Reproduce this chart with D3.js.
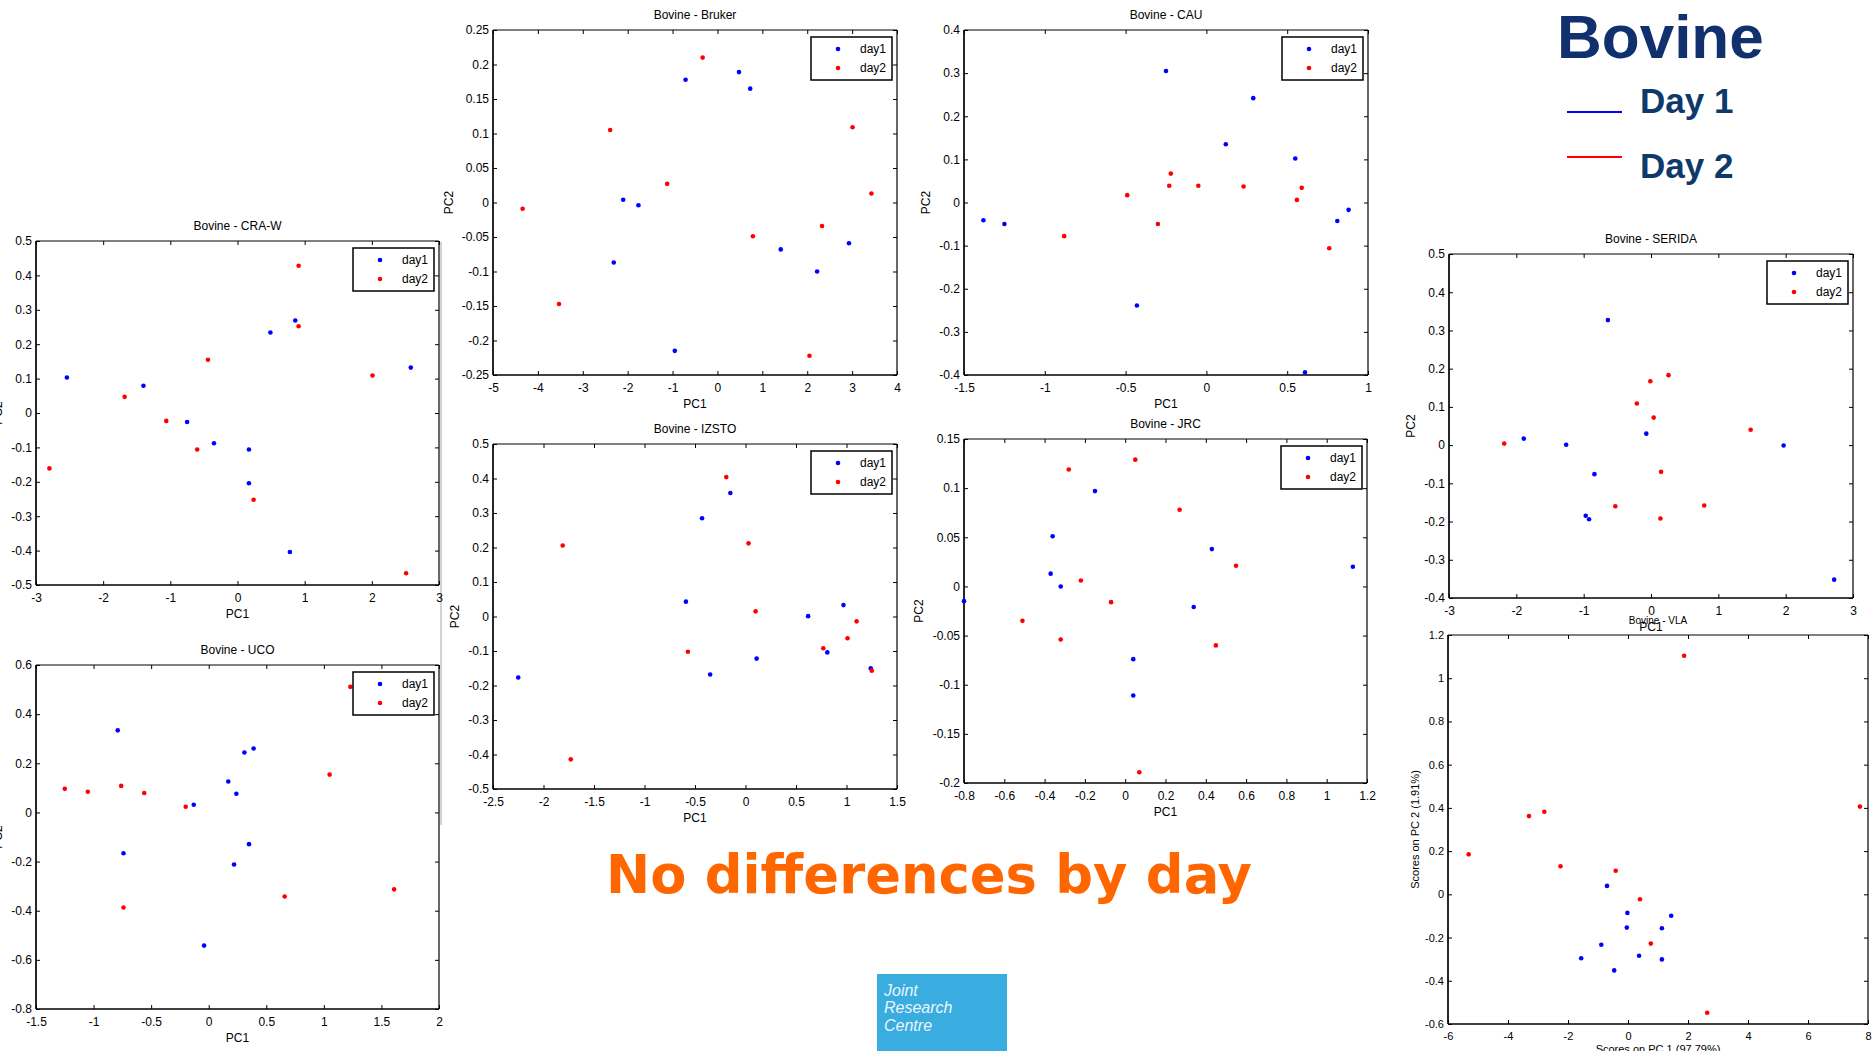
<!DOCTYPE html>
<html><head><meta charset="utf-8">
<script src="https://cdn.jsdelivr.net/npm/d3@7"></script>
<style>body{margin:0;background:#fff;}svg{display:block;}</style>
</head><body>
<svg id="c" width="1874" height="1051"></svg>
<script>
// ---------------- DATA (PC1, PC2 scores) ----------------
const crawDay1 = [[-2.54,0.103],[-1.40,0.079],[-0.75,-0.026],[-0.35,-0.088],[0.17,-0.106],[0.17,-0.204],[0.49,0.234],[0.86,0.269],[0.78,-0.404],[2.58,0.132]];
const crawDay2 = [[-2.80,-0.161],[-1.68,0.047],[-1.06,-0.023],[-0.60,-0.106],[-0.44,0.155],[0.91,0.428],[0.91,0.252],[0.24,-0.252],[2.01,0.109],[2.51,-0.466]];
const crawXTicks = [-3,-2,-1,0,1,2,3];
const crawYTicks = [-0.5,-0.4,-0.3,-0.2,-0.1,0,0.1,0.2,0.3,0.4,0.5];

const ucoDay1 = [[-0.79,0.334],[-0.74,-0.166],[-0.13,0.031],[0.17,0.126],[0.24,0.076],[0.31,0.244],[0.39,0.260],[0.35,-0.129],[0.22,-0.212],[-0.04,-0.542]];
const ucoDay2 = [[-1.25,0.096],[-1.05,0.084],[-0.76,0.108],[-0.56,0.079],[-0.20,0.023],[-0.74,-0.387],[0.66,-0.342],[1.05,0.154],[1.23,0.511],[1.61,-0.313]];
const ucoXTicks = [-1.5,-1,-0.5,0,0.5,1,1.5,2];
const ucoYTicks = [-0.8,-0.6,-0.4,-0.2,0,0.2,0.4,0.6];

const brukerDay1 = [[-0.71,0.178],[0.48,0.189],[0.73,0.165],[-2.10,0.004],[-1.76,-0.004],[-2.31,-0.087],[-0.95,-0.215],[1.41,-0.068],[2.22,-0.100],[2.93,-0.059]];
const brukerDay2 = [[-0.33,0.210],[-2.39,0.105],[-1.12,0.027],[-4.34,-0.009],[-3.53,-0.147],[0.79,-0.049],[2.33,-0.034],[3.01,0.109],[3.43,0.013],[2.05,-0.222]];
const brukerXTicks = [-5,-4,-3,-2,-1,0,1,2,3,4];
const brukerYTicks = [-0.25,-0.2,-0.15,-0.1,-0.05,0,0.05,0.1,0.15,0.2,0.25];

const izstoDay1 = [[-2.25,-0.177],[-0.59,0.043],[-0.43,0.285],[-0.15,0.358],[-0.35,-0.168],[0.11,-0.122],[0.62,0.001],[0.97,0.033],[0.81,-0.104],[1.24,-0.150]];
const izstoDay2 = [[-1.81,0.206],[-1.73,-0.414],[-0.57,-0.102],[-0.19,0.404],[0.03,0.212],[0.10,0.015],[0.77,-0.092],[1.01,-0.063],[1.10,-0.014],[1.25,-0.157]];
const izstoXTicks = [-2.5,-2,-1.5,-1,-0.5,0,0.5,1,1.5];
const izstoYTicks = [-0.5,-0.4,-0.3,-0.2,-0.1,0,0.1,0.2,0.3,0.4,0.5];

const cauDay1 = [[-1.38,-0.041],[-1.25,-0.050],[-0.25,0.305],[-0.43,-0.239],[0.12,0.135],[0.29,0.242],[0.55,0.102],[0.81,-0.043],[0.88,-0.017],[0.61,-0.394]];
const cauDay2 = [[-0.88,-0.078],[-0.49,0.017],[-0.30,-0.050],[-0.23,0.039],[-0.22,0.067],[-0.05,0.039],[0.23,0.037],[0.56,0.006],[0.59,0.034],[0.76,-0.106]];
const cauXTicks = [-1.5,-1,-0.5,0,0.5,1];
const cauYTicks = [-0.4,-0.3,-0.2,-0.1,0,0.1,0.2,0.3,0.4];

const jrcDay1 = [[-0.80,-0.015],[-0.36,0.051],[-0.37,0.013],[-0.32,0.000],[-0.15,0.097],[0.04,-0.074],[0.04,-0.111],[0.34,-0.021],[0.43,0.038],[1.13,0.020]];
const jrcDay2 = [[-0.51,-0.035],[-0.32,-0.054],[-0.28,0.119],[-0.22,0.006],[-0.07,-0.016],[0.05,0.129],[0.07,-0.189],[0.27,0.078],[0.45,-0.060],[0.55,0.021]];
const jrcXTicks = [-0.8,-0.6,-0.4,-0.2,0,0.2,0.4,0.6,0.8,1,1.2];
const jrcYTicks = [-0.2,-0.15,-0.1,-0.05,0,0.05,0.1,0.15];

const seridaDay1 = [[-1.89,0.017],[-1.26,0.001],[-0.64,0.327],[-0.84,-0.076],[-0.97,-0.185],[-0.92,-0.194],[-0.07,0.030],[1.97,-0.001],[2.72,-0.352]];
const seridaDay2 = [[-2.18,0.004],[-0.21,0.109],[-0.01,0.167],[0.26,0.183],[0.04,0.072],[0.15,-0.070],[-0.53,-0.160],[0.14,-0.192],[0.79,-0.158],[1.48,0.040]];
const seridaXTicks = [-3,-2,-1,0,1,2,3];
const seridaYTicks = [-0.4,-0.3,-0.2,-0.1,0,0.1,0.2,0.3,0.4,0.5];

const vlaDay1 = [[-0.70,0.039],[-0.02,-0.086],[-0.04,-0.154],[1.44,-0.099],[1.13,-0.157],[-0.89,-0.233],[-1.56,-0.296],[-0.46,-0.352],[0.37,-0.284],[1.13,-0.301]];
const vlaDay2 = [[-5.31,0.185],[-3.30,0.362],[-2.79,0.382],[-2.25,0.130],[-0.41,0.109],[0.40,-0.023],[0.76,-0.228],[1.87,1.104],[2.64,-0.548],[7.73,0.406]];
const vlaXTicks = [-6,-4,-2,0,2,4,6,8];
const vlaYTicks = [-0.6,-0.4,-0.2,0,0.2,0.4,0.6,0.8,1,1.2];

const seriesNames = ["day1","day2"];
const seriesColors = ["#0000ff","#ff0000"];
const keyLabels = ["Day 1","Day 2"];

// ---------------- LAYOUT ----------------
const panels = [
  {title:"Bovine - CRA-W", d:[crawDay1,crawDay2], xt:crawXTicks, yt:crawYTicks, b:[36,241,439,585], ylx:2, xl:"PC1", yl:"PC2", legend:true},
  {title:"Bovine - UCO", d:[ucoDay1,ucoDay2], xt:ucoXTicks, yt:ucoYTicks, b:[36,665,439,1009], ylx:2, xl:"PC1", yl:"PC2", legend:true},
  {title:"Bovine - Bruker", d:[brukerDay1,brukerDay2], xt:brukerXTicks, yt:brukerYTicks, b:[493,30,897,375], ylx:453, xl:"PC1", yl:"PC2", legend:true},
  {title:"Bovine - IZSTO", d:[izstoDay1,izstoDay2], xt:izstoXTicks, yt:izstoYTicks, b:[493,444,897,789], ylx:459, xl:"PC1", yl:"PC2", legend:true},
  {title:"Bovine - CAU", d:[cauDay1,cauDay2], xt:cauXTicks, yt:cauYTicks, b:[964,30,1368,375], ylx:930, xl:"PC1", yl:"PC2", legend:true},
  {title:"Bovine - JRC", d:[jrcDay1,jrcDay2], xt:jrcXTicks, yt:jrcYTicks, b:[964,439,1367,783], ylx:923, xl:"PC1", yl:"PC2", legend:true},
  {title:"Bovine - SERIDA", d:[seridaDay1,seridaDay2], xt:seridaXTicks, yt:seridaYTicks, b:[1449,254,1853,598], ylx:1415, xl:"PC1", yl:"PC2", legend:true},
  {title:"Bovine - VLA", d:[vlaDay1,vlaDay2], xt:vlaXTicks, yt:vlaYTicks, b:[1448,635,1868,1024], ylx:1419, xl:"Scores on PC 1 (97.79%)", yl:"Scores on PC 2 (1.91%)", legend:false, fs:11, tfs:10}
];

const svg = d3.select("#c");
const FONT = "'Liberation Sans', Arial, sans-serif";
const fmt = v => Math.abs(v) < 1e-9 ? "0" : String(+v.toFixed(3));

// faint image border line between left column and middle column
svg.append("line").attr("x1",441).attr("x2",441).attr("y1",242).attr("y2",825)
  .attr("stroke","#c4c4c4").attr("stroke-width",1.5);

panels.forEach(p => {
  const [L,T,R,B] = p.b;
  const fs = p.fs || 12, tfs = p.tfs || 12;
  const x = d3.scaleLinear().domain(d3.extent(p.xt)).range([L,R]);
  const y = d3.scaleLinear().domain(d3.extent(p.yt)).range([B,T]);
  const g = svg.append("g").attr("font-family",FONT);

  const ax = (gen, tr, labels) => {
    const a = g.append("g").attr("transform",tr)
      .call(gen.tickSizeInner(-4).tickSizeOuter(0).tickPadding(labels?8:0).tickFormat(labels?fmt:""));
    a.select(".domain").remove();
    a.selectAll("line").attr("stroke","#000").attr("stroke-width",1);
    a.selectAll("text").attr("font-size",fs).attr("font-family",FONT).attr("fill","#000");
    return a;
  };
  ax(d3.axisBottom(x).tickValues(p.xt), `translate(0,${B})`, true);
  const la = ax(d3.axisLeft(y).tickValues(p.yt), `translate(${L},0)`, true);
  la.call(a => a.selectAll("text").attr("x",-4));
  ax(d3.axisTop(x).tickValues(p.xt), `translate(0,${T})`, false);
  ax(d3.axisRight(y).tickValues(p.yt), `translate(${R},0)`, false);

  // box
  g.append("line").attr("x1",L).attr("x2",R).attr("y1",T).attr("y2",T).attr("stroke","#000").attr("stroke-width",1);
  g.append("line").attr("x1",R).attr("x2",R).attr("y1",T).attr("y2",B).attr("stroke","#000").attr("stroke-width",1.2);
  g.append("line").attr("x1",L).attr("x2",R).attr("y1",B).attr("y2",B).attr("stroke","#000").attr("stroke-width",1.7);
  g.append("line").attr("x1",L).attr("x2",L).attr("y1",T).attr("y2",B).attr("stroke","#000").attr("stroke-width",1.7);

  // points
  p.d.forEach((s,i) => {
    g.append("g").selectAll("circle").data(s).join("circle")
      .attr("cx",d=>x(d[0])).attr("cy",d=>y(d[1])).attr("r",2.3)
      .attr("fill",seriesColors[i]);
  });

  // title & axis labels
  g.append("text").attr("x",(L+R)/2).attr("y",T-11).attr("text-anchor","middle")
    .attr("font-size",tfs).text(p.title);
  g.append("text").attr("x",(L+R)/2).attr("y",p.legend?B+33:B+29).attr("text-anchor","middle")
    .attr("font-size",fs).text(p.xl);
  g.append("text").attr("transform",`translate(${p.ylx},${(T+B)/2}) rotate(-90)`)
    .attr("text-anchor","middle").attr("font-size",fs).text(p.yl);

  // legend
  if (p.legend) {
    const lx = R-86, ly = T+7;
    const lg = g.append("g");
    lg.append("rect").attr("x",lx).attr("y",ly).attr("width",81).attr("height",43)
      .attr("fill","#fff").attr("stroke","#000").attr("stroke-width",1.5);
    seriesNames.forEach((n,i) => {
      lg.append("circle").attr("cx",lx+27).attr("cy",ly+12+i*19).attr("r",2.3).attr("fill",seriesColors[i]);
      lg.append("text").attr("x",lx+49).attr("y",ly+12+i*19).attr("dy","0.35em")
        .attr("font-size",12).text(n);
    });
  }
});

// -------- slide annotations --------
svg.append("text").attr("x",1557).attr("y",58).attr("font-family","'Liberation Sans', Arial, sans-serif")
  .attr("font-weight","bold").attr("font-size",62).attr("fill","#10306e").text("Bovine");
keyLabels.forEach((k,i) => {
  const yy = [112,157][i];
  svg.append("line").attr("x1",1567).attr("x2",1622).attr("y1",yy).attr("y2",yy)
    .attr("stroke",seriesColors[i]).attr("stroke-width",2);
  svg.append("text").attr("x",1640).attr("y",[113,178][i])
    .attr("font-family","'Liberation Sans', Arial, sans-serif").attr("font-weight","bold")
    .attr("font-size",35).attr("fill","#0d3a6b").text(k);
});

svg.append("text").attr("x",606).attr("y",893)
  .attr("font-family","'DejaVu Sans', Verdana, sans-serif").attr("font-weight","bold")
  .attr("font-size",54).attr("fill","#ff6600")
  .attr("textLength",646).attr("lengthAdjust","spacingAndGlyphs")
  .text("No differences by day");

// JRC logo
svg.append("rect").attr("x",877).attr("y",974).attr("width",130).attr("height",77).attr("fill","#39ade0");
["Joint","Research","Centre"].forEach((t,i) => {
  svg.append("text").attr("x",884).attr("y",[996,1013,1031][i])
    .attr("font-family","'Liberation Sans Narrow','Liberation Sans', Arial, sans-serif")
    .attr("font-style","italic").attr("font-size",16).attr("fill","#eaf6fc").text(t);
});
</script>
</body></html>
